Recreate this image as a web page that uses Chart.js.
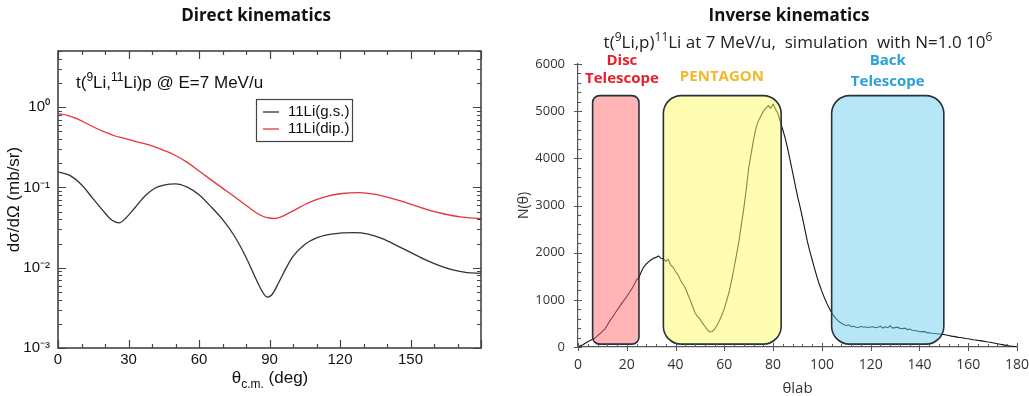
<!DOCTYPE html>
<html>
<head>
<meta charset="utf-8">
<title>Direct and inverse kinematics</title>
<script src="https://cdn.jsdelivr.net/npm/chart.js@4.4.1/dist/chart.umd.min.js"></script>
<style>
  html, body { margin: 0; padding: 0; background: #fff; }
  #wrap { position: relative; width: 1029px; height: 396px; overflow: hidden; }
  #direct-chart { position: absolute; left: 0; top: 0; }
  #inverse-chart { position: absolute; left: 514px; top: 0; }
</style>
</head>
<body>
<div id="wrap">
  <canvas id="direct-chart" width="514" height="396"></canvas>
  <canvas id="inverse-chart" width="515" height="396"></canvas>
</div>
<script>
// ---- data: direct kinematics, d(sigma)/d(Omega) in mb/sr vs theta c.m.
var thetaGs = [0, 5, 10, 15, 20, 23, 26, 29, 33, 37, 41, 45, 50, 55, 60, 65, 70, 75, 80, 84, 87, 89, 91, 94, 97, 100,
  105, 110, 115, 120, 126, 132, 138, 144, 150, 156, 162, 168, 174, 180];
var xsecGs = [0.156, 0.141, 0.108, 0.072, 0.048, 0.039, 0.0362, 0.042, 0.057, 0.078, 0.097, 0.107, 0.111, 0.101,
  0.081, 0.058, 0.040, 0.025, 0.0135, 0.0075, 0.0050, 0.0043, 0.0046, 0.0066, 0.0098, 0.0138,
  0.0195, 0.0235, 0.0258, 0.0270, 0.0273, 0.0262, 0.0230, 0.0190, 0.0155, 0.0127, 0.0107, 0.0094, 0.0087, 0.0085];
var thetaDip = [0, 4, 8, 12, 16, 20, 24, 28, 32, 36, 40, 45, 50, 55, 60, 65, 70, 75, 80, 85, 89, 92, 95, 100,
  107, 114, 121, 128, 135, 142, 150, 157, 164, 171, 180];
var xsecDip = [0.83, 0.79, 0.72, 0.63, 0.55, 0.49, 0.44, 0.41, 0.38, 0.355, 0.33, 0.29, 0.25, 0.205, 0.16, 0.125,
  0.098, 0.077, 0.060, 0.047, 0.042, 0.041, 0.043, 0.051, 0.065, 0.077, 0.084, 0.086, 0.082, 0.073, 0.062,
  0.053, 0.047, 0.043, 0.041];
var directLabels = ['11Li(g.s.)', '11Li(dip.)'];

// ---- data: inverse kinematics, simulated counts per degree of theta lab (0..180)
var thetaLab = [];
for (var d = 0; d <= 180; d++) thetaLab.push(d);
var countsLab = [
  0, 25, 50, 80, 110, 140, 165, 190, 240, 280,
  330, 380, 460, 550, 620, 700, 780, 850, 930, 1000,
  1070, 1150, 1230, 1320, 1420, 1480, 1600, 1700, 1760, 1810,
  1850, 1880, 1900, 1930, 1880, 1870, 1820, 1860, 1740, 1690,
  1600, 1530, 1420, 1330, 1250, 1120, 1000, 860, 720, 650,
  590, 510, 440, 370, 320, 330, 380, 460, 560, 680,
  820, 990, 1180, 1420, 1680, 1960, 2250, 2600, 2950, 3350,
  3800, 4100, 4400, 4650, 4800, 4900, 5000, 5060, 5120, 5060,
  5150, 5040, 4950, 4760, 4600, 4420, 4200, 3950, 3700, 3450,
  3200, 2980, 2750, 2500, 2250, 2040, 1850, 1660, 1480, 1320,
  1180, 1050, 930, 820, 730, 650, 590, 540, 505, 475,
  450, 470, 430, 440, 420, 410, 440, 420, 430, 410,
  425, 430, 410, 420, 440, 400, 430, 410, 450, 400,
  410, 420, 395, 390, 400, 370, 380, 355, 350, 340,
  330, 320, 330, 305, 300, 290, 285, 280, 275, 270,
  265, 255, 245, 230, 225, 215, 205, 200, 190, 180,
  175, 165, 155, 150, 140, 135, 125, 115, 105, 100,
  90, 80, 70, 60, 50, 40, 30, 22, 15, 8, 0
];
// detector coverage in theta lab (deg) and counts
var boxNames = [['Disc', 'Telescope'], ['PENTAGON'], ['Back', 'Telescope']];
var boxFrom = [6, 35, 104];
var boxTo = [25, 83.3, 150];
var boxLow = 60;
var boxHigh = 5330;

// log axis tick values: 1..9 per decade
var logTicks = [];
[-3, -2, -1, 0].forEach(function (e) {
  for (var m = 1; m <= 9; m++) {
    var v = m * Math.pow(10, e);
    if (v <= 5.0001) logTicks.push(v);
  }
});

var supMap = { '-': '\u207b', '0': '\u2070', '1': '\u00b9', '2': '\u00b2', '3': '\u00b3' };
function sup(n) {
  return String(n).split('').map(function (c) { return supMap[c]; }).join('');
}
function isDecade(v) {
  var e = Math.log10(v);
  return Math.abs(e - Math.round(e)) < 1e-6;
}

// text with super/subscripts, parts = [[text, 'sup'|'sub'|'']]
function drawRich(ctx, parts, x, y, size, family, align, color) {
  var big = size + 'px ' + family;
  var small = Math.round(size * 0.68) + 'px ' + family;
  var w = 0;
  parts.forEach(function (p) { ctx.font = p[1] ? small : big; w += ctx.measureText(p[0]).width; });
  var cx = align === 'center' ? x - w / 2 : x;
  ctx.textAlign = 'left';
  ctx.textBaseline = 'alphabetic';
  ctx.fillStyle = color;
  parts.forEach(function (p) {
    ctx.font = p[1] ? small : big;
    var dy = p[1] === 'sup' ? -size * 0.42 : (p[1] === 'sub' ? size * 0.3 : 0);
    ctx.fillText(p[0], cx, y + dy);
    cx += ctx.measureText(p[0]).width;
  });
}

// tick marks drawn by hand (inward / both sides), positions from the chart scales
function tickMarks(o) {
  return {
    id: 'tickMarks' + o.name,
    afterDraw: function (chart) {
      var ctx = chart.ctx, a = chart.chartArea, x = chart.scales.x, y = chart.scales.y;
      ctx.save();
      ctx.strokeStyle = o.color;
      ctx.lineWidth = o.width;
      ctx.beginPath();
      x.ticks.forEach(function (t) {
        var px = Math.round(x.getPixelForValue(t.value)) + 0.5;
        var L = o.xMajor(t.value) ? o.major : o.minor;
        ctx.moveTo(px, a.bottom + L[1]); ctx.lineTo(px, a.bottom - L[0]);
        if (o.mirror) { ctx.moveTo(px, a.top); ctx.lineTo(px, a.top + L[0]); }
      });
      y.ticks.forEach(function (t) {
        var py = Math.round(y.getPixelForValue(t.value)) + 0.5;
        var L = o.yMajor(t.value) ? o.major : o.minor;
        ctx.moveTo(a.left - L[1], py); ctx.lineTo(a.left + L[0], py);
        if (o.mirror) { ctx.moveTo(a.right, py); ctx.lineTo(a.right - L[0], py); }
      });
      ctx.stroke();
      if (o.frame) {
        ctx.lineWidth = 1.6;
        ctx.strokeRect(a.left, a.top, a.right - a.left, a.bottom - a.top);
      }
      ctx.restore();
    }
  };
}

//Direct kinematics chart
var directDecor = {
  id: 'directDecor',
  afterDraw: function (chart) {
    var ctx = chart.ctx;
    ctx.save();
    ctx.fillStyle = '#111';
    ctx.font = 'bold 17px "Open Sans"';
    ctx.textAlign = 'center';
    ctx.textBaseline = 'middle';
    ctx.fillText('Direct kinematics', 256, 16);
    drawRich(ctx, [['t(', ''], ['9', 'sup'], ['Li,', ''], ['11', 'sup'], ['Li)p @ E=7 MeV/u', '']],
      76, 88, 17, '"Liberation Sans"', 'left', '#111');
    drawRich(ctx, [['\u03b8', ''], ['c.m.', 'sub'], [' (deg)', '']], 270, 383, 17, '"Liberation Sans"', 'center', '#111');
    // legend
    ctx.strokeStyle = '#444';
    ctx.lineWidth = 1.2;
    ctx.strokeRect(256.5, 99.5, 96, 42);
    var colors = chart.data.datasets.map(function (ds) { return ds.borderColor; });
    ctx.font = '15px "Liberation Sans"';
    ctx.textAlign = 'left';
    ctx.textBaseline = 'middle';
    directLabels.forEach(function (lab, i) {
      var ly = 112 + i * 17;
      ctx.strokeStyle = colors[i];
      ctx.lineWidth = 1.3;
      ctx.beginPath(); ctx.moveTo(263, ly); ctx.lineTo(279, ly); ctx.stroke();
      ctx.fillStyle = '#111';
      ctx.fillText(lab, 288, ly);
    });
    ctx.restore();
  }
};

var directChart = new Chart(document.getElementById('direct-chart'), {
  type: 'line',
  data: {
    datasets: [{
      label: directLabels[0],
      data: thetaGs.map(function (t, i) { return { x: t, y: xsecGs[i] }; }),
      borderColor: '#333333',
      borderWidth: 1.3,
      pointRadius: 0,
      cubicInterpolationMode: 'monotone'
    }, {
      label: directLabels[1],
      data: thetaDip.map(function (t, i) { return { x: t, y: xsecDip[i] }; }),
      borderColor: '#e5353b',
      borderWidth: 1.3,
      pointRadius: 0,
      cubicInterpolationMode: 'monotone'
    }]
  },
  options: {
    responsive: false,
    animation: false,
    devicePixelRatio: 1,
    layout: { padding: { top: 51, right: 33, left: 0, bottom: 0 } },
    plugins: { legend: { display: false }, tooltip: { enabled: false } },
    scales: {
      x: {
        type: 'linear',
        min: 0,
        max: 180,
        afterFit: function (s) { s.height = 48; s.paddingRight = 0; s.paddingLeft = 0; },
        grid: { display: false, drawTicks: false },
        border: { display: false },
        ticks: {
          stepSize: 10,
          autoSkip: false,
          maxRotation: 0,
          padding: 3,
          color: '#111',
          font: { family: 'Liberation Sans', size: 15 },
          callback: function (v) { return v % 30 === 0 && v < 180 ? v : ''; }
        }
      },
      y: {
        type: 'logarithmic',
        min: 0.001,
        max: 5,
        afterFit: function (s) { s.width = 58; },
        afterBuildTicks: function (s) { s.ticks = logTicks.map(function (v) { return { value: v }; }); },
        grid: { display: false, drawTicks: false },
        border: { display: false },
        ticks: {
          autoSkip: false,
          padding: 8,
          color: '#111',
          font: { family: 'Liberation Sans', size: 15 },
          callback: function (v) { return isDecade(v) ? '10' + sup(Math.round(Math.log10(v))) : ''; }
        },
        title: {
          display: true,
          text: 'd\u03c3/d\u03a9 (mb/sr)',
          color: '#111',
          font: { family: 'Liberation Sans', size: 17, lineHeight: 1.2 },
          padding: { top: 4, bottom: 0 }
        }
      }
    }
  },
  plugins: [tickMarks({
    name: 'Direct', color: '#444', width: 1.2, mirror: true, frame: true,
    major: [8, 0], minor: [4, 0],
    xMajor: function (v) { return v % 30 === 0; },
    yMajor: isDecade
  }), directDecor]
});

//Inverse kinematics chart
var boxStyle = {
  fill: ['rgba(255,105,110,0.5)', 'rgba(255,251,100,0.5)', 'rgba(112,206,240,0.5)'],
  text: ['#e5202a', '#f2b72a', '#2a9fd8'],
  radius: [7, 18, 18],
  labelAt: [18, 59, 127],
  lineY: [[-3, 15], [13], [-3, 18]]
};
var inverseDecor = {
  id: 'inverseDecor',
  afterDatasetsDraw: function (chart) {
    var ctx = chart.ctx, x = chart.scales.x, y = chart.scales.y, a = chart.chartArea;
    ctx.save();
    boxNames.forEach(function (lines, i) {
      var l = x.getPixelForValue(boxFrom[i]), r = x.getPixelForValue(boxTo[i]);
      var t = y.getPixelForValue(boxHigh), b = y.getPixelForValue(boxLow);
      ctx.beginPath();
      ctx.roundRect(l, t, r - l, b - t, boxStyle.radius[i]);
      ctx.fillStyle = boxStyle.fill[i];
      ctx.fill();
      ctx.lineWidth = 1.6;
      ctx.strokeStyle = '#26323c';
      ctx.stroke();
      ctx.fillStyle = boxStyle.text[i];
      ctx.font = 'bold 15px "Open Sans"';
      ctx.textAlign = 'center';
      ctx.textBaseline = 'middle';
      lines.forEach(function (txt, j) {
        ctx.fillText(txt, x.getPixelForValue(boxStyle.labelAt[i]), a.top + boxStyle.lineY[i][j]);
      });
    });
    ctx.restore();
  },
  afterDraw: function (chart) {
    var ctx = chart.ctx;
    ctx.save();
    ctx.fillStyle = '#111';
    ctx.font = 'bold 17px "Open Sans"';
    ctx.textAlign = 'center';
    ctx.textBaseline = 'middle';
    ctx.fillText('Inverse kinematics', 275, 16);
    drawRich(ctx, [['t(', ''], ['9', 'sup'], ['Li,p)', ''], ['11', 'sup'],
      ['Li at 7 MeV/u,  simulation  with N=1.0 10', ''], ['6', 'sup']], 284, 48, 17, '"Open Sans"', 'center', '#222');
    ctx.restore();
  }
};

var inverseChart = new Chart(document.getElementById('inverse-chart'), {
  type: 'line',
  data: {
    datasets: [{
      data: thetaLab.map(function (t, i) { return { x: t, y: countsLab[i] }; }),
      borderColor: '#151515',
      borderWidth: 1.1,
      pointRadius: 0,
      tension: 0
    }]
  },
  options: {
    responsive: false,
    animation: false,
    devicePixelRatio: 1,
    layout: { padding: { top: 64, right: 12, left: 0, bottom: 0 } },
    plugins: { legend: { display: false }, tooltip: { enabled: false } },
    scales: {
      x: {
        type: 'linear',
        min: 0,
        max: 180,
        afterFit: function (s) { s.height = 49; s.paddingRight = 0; s.paddingLeft = 0; },
        grid: { display: false, drawTicks: false },
        border: { display: true, color: '#555', width: 1.2 },
        ticks: {
          stepSize: 4,
          autoSkip: false,
          maxRotation: 0,
          padding: 10,
          color: '#333',
          font: { family: 'Open Sans', size: 14 },
          callback: function (v) { return v % 20 === 0 ? v : ''; }
        },
        title: {
          display: true,
          text: '\u03b8lab',
          color: '#333',
          font: { family: 'Open Sans', size: 15, lineHeight: 1 },
          padding: { top: 0, bottom: 0 }
        }
      },
      y: {
        min: 0,
        max: 6000,
        afterFit: function (s) { s.width = 64; },
        grid: { display: false, drawTicks: false },
        border: { display: true, color: '#555', width: 1.2 },
        ticks: {
          stepSize: 200,
          autoSkip: false,
          padding: 13,
          color: '#333',
          font: { family: 'Open Sans', size: 13 },
          callback: function (v) { return v % 1000 === 0 ? v : ''; }
        },
        title: {
          display: true,
          text: 'N(\u03b8)',
          color: '#333',
          font: { family: 'Open Sans', size: 14, lineHeight: 1 },
          padding: { top: 3, bottom: 0 }
        }
      }
    }
  },
  plugins: [inverseDecor, tickMarks({
    name: 'Inverse', color: '#555', width: 1, mirror: false, frame: false,
    major: [4, 4], minor: [3, 0],
    xMajor: function (v) { return v % 20 === 0; },
    yMajor: function (v) { return v % 1000 === 0; }
  })]
});
</script>
</body>
</html>
